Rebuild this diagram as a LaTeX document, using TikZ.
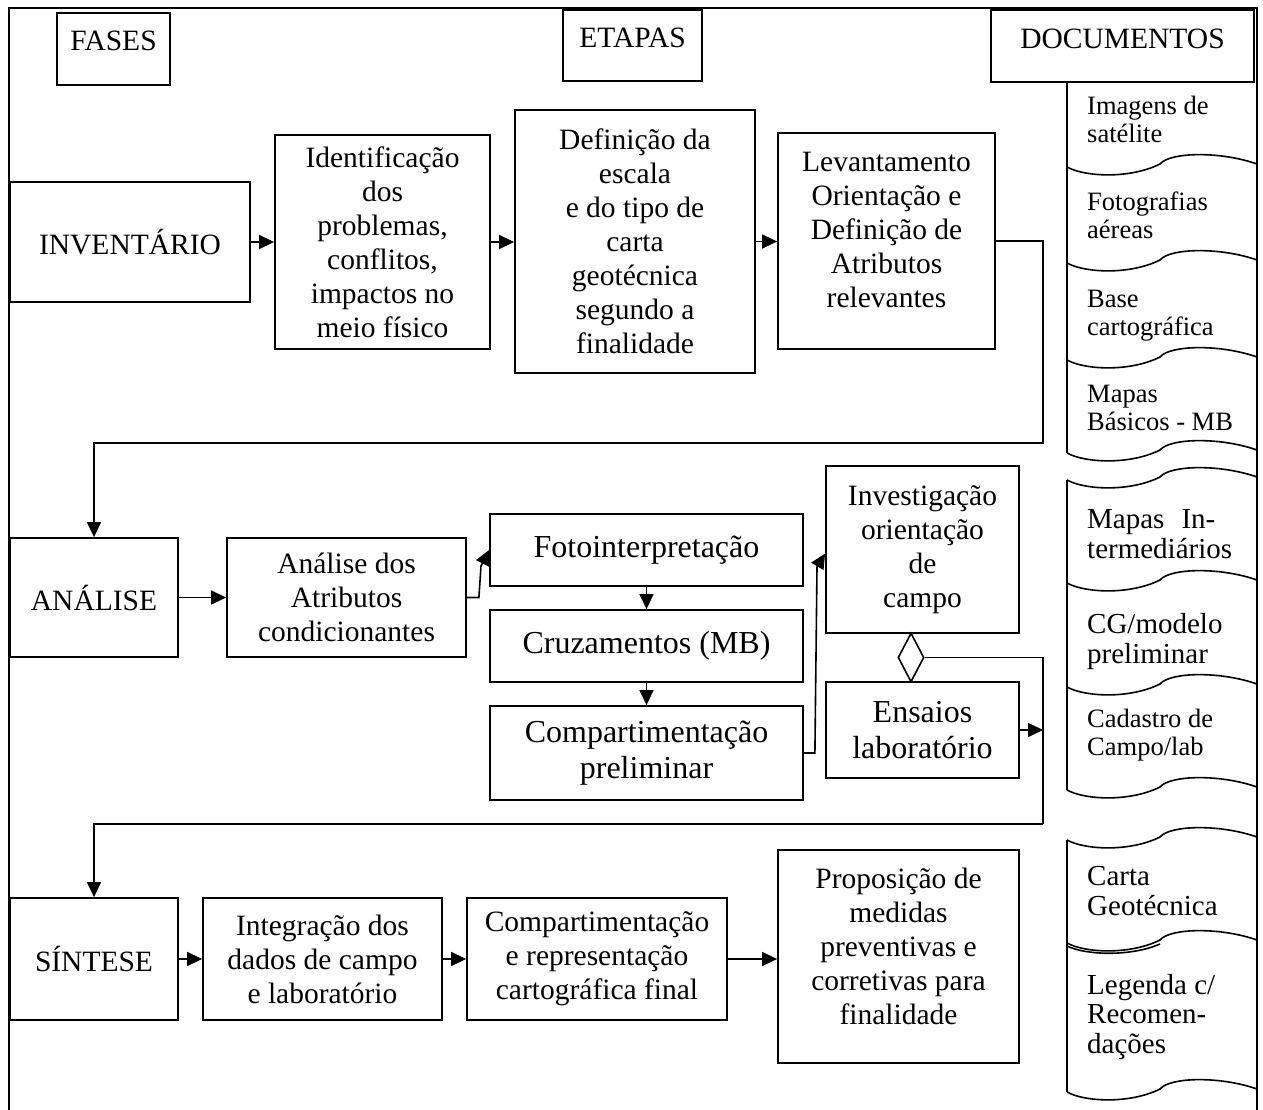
\documentclass[tikz,border=0pt]{standalone}
\usepackage{fontspec}
\setmainfont{Liberation Serif}
\usetikzlibrary{arrows.meta,shapes.geometric}

\tikzset{
  x=1pt, y=-1pt,
  box/.style={draw, line width=1.8pt, rectangle, inner sep=0pt, align=center,
              font=\fontsize{29.5}{34}\selectfont},
  bigbox/.style={box, font=\fontsize{32}{36}\selectfont},
  txt/.style={align=center, inner sep=0pt, font=\fontsize{29.5}{34}\selectfont},
  % document labels are anchored on the baseline of their last line
  doctxt/.style={align=left, anchor=base west, inner sep=0pt,
                 font=\fontsize{26.5}{28}\selectfont},
  doctxtl/.style={align=left, anchor=base west, inner sep=0pt,
                  font=\fontsize{29}{29.5}\selectfont},
  link/.style={line width=1.6pt},
  arr/.style={link, -{Triangle[length=15pt,width=14pt]}},
  frame/.style={line width=1.5pt},
  wave/.style={line width=1.6pt},
  pics/docwave/.style={code={
    \draw[wave] (1067,0) .. controls (1085,10) and (1130,12) .. (1160,-3)
                .. controls (1170,-15) and (1220,-16) .. (1257,-3);}},
}

\begin{document}
\begin{tikzpicture}
\useasboundingbox (0,0) rectangle (1263,1110);

% outer frame (open at the bottom)
\draw[frame] (9,1110) -- (9,8) -- (1257,8) -- (1257,1110);

% column headers
\node[box, minimum width=113pt, minimum height=72pt] (fases) at (113.5,49) {};
\node[txt] (fasest) at (113.5,41) {FASES};
\node[box, minimum width=139pt, minimum height=71pt] (etapas) at (632.5,45.5) {};
\node[txt] (etapast) at (632.5,38) {ETAPAS};
\node[box, minimum width=263pt, minimum height=72pt] (docs) at (1122.5,46) {};
\node[txt] (docst) at (1122.5,38.5) {DOCUMENTOS};

% inventory row
\node[box, minimum width=240pt, minimum height=120pt] (inv) at (130,242) {INVENTÁRIO};
\node[box, minimum width=215pt, minimum height=214pt] (ident) at (382.5,242)
  {Identificação\\dos\\problemas,\\conflitos,\\impactos no\\meio físico};
\node[box, minimum width=240pt, minimum height=263pt] (defi) at (635,241.5)
  {Definição da\\escala\\e do tipo de\\carta\\geotécnica\\segundo a\\finalidade};
\node[box, minimum width=217pt, minimum height=216pt] (lev) at (886.5,241) {};
\node[txt] (levt) at (886.5,230)
  {Levantamento\\Orientação e\\Definição de\\Atributos\\relevantes};

% analysis row
\node[box, minimum width=168pt, minimum height=119pt] (anal) at (94,597.5) {ANÁLISE};
\node[box, minimum width=239pt, minimum height=119pt] (atr) at (346.5,597.5)
  {Análise dos\\Atributos\\condicionantes};
\node[bigbox, minimum width=313pt, minimum height=72pt] (foto) at (646.5,550) {Fotointerpretação};
\node[bigbox, minimum width=313pt, minimum height=72pt] (cruz) at (646.5,646) {Cruzamentos (MB)};
\node[bigbox, minimum width=313pt, minimum height=94pt] (cpre) at (646.5,753)
  {Compartimentação\\preliminar};
\node[box, minimum width=193pt, minimum height=167pt] (invq) at (922.5,549.5)
  {Investigação\\orientação\\de\\campo};
\node[bigbox, minimum width=193pt, minimum height=96pt] (ens) at (922.5,730)
  {Ensaios\\laboratório};
\node[draw, diamond, line width=1.6pt, minimum width=26pt, minimum height=49pt,
      inner sep=0pt] (dia) at (911,657.5) {};

% synthesis row
\node[box, minimum width=168pt, minimum height=122pt] (sin) at (94,959) {SÍNTESE};
\node[box, minimum width=239pt, minimum height=122pt] (integ) at (322.5,959)
  {Integração dos\\dados de campo\\e laboratório};
\node[box, minimum width=260pt, minimum height=122pt] (cfin) at (597,959)
  {Compartimentação\\e representação\\cartográfica final};
\node[box, minimum width=241pt, minimum height=213pt] (prop) at (898.5,956.5) {};
\node[txt] (propt) at (898.5,946)
  {Proposição de\\medidas\\preventivas e\\corretivas para\\finalidade};

% connectors
\coordinate (r1) at (1043,443);
\coordinate (r2) at (1043,824);
\draw[arr] (inv.east) -- (inv.east -| ident.west);
\draw[arr] (ident.east) -- (ident.east -| defi.west);
\draw[arr] (defi.east) -- (defi.east -| lev.west);
\draw[arr] (lev.east) -| (r1) -| (anal.north);

\draw[arr] (anal.east) -- (anal.east -| atr.west);
\draw[arr] (atr.east) -- ++(12,0) -- (481,566) -- (foto.west);
\draw[arr] (foto) -- (cruz);
\draw[arr] (cruz) -- (cpre);
\draw[arr] (cpre.east) -- ++(11,0) -- (817,567) -- ([yshift=-4pt]invq.west);
\draw[link] (dia.east) -| (r2);
\draw[arr] (r2) -| (sin.north);
\draw[arr] (ens.east) -- (ens.east -| r2);

\draw[arr] (sin.east) -- (sin.east -| integ.west);
\draw[arr] (integ.east) -- (integ.east -| cfin.west);
\draw[arr] (cfin.east) -- (cfin.east -| prop.west);

% document stacks
\draw[wave] (1067,82) -- (1067,453);
\pic at (0,167) {docwave};
\pic at (0,263) {docwave};
\pic at (0,360) {docwave};
\pic at (0,453) {docwave};

\draw[wave] (1067,480) -- (1067,790);
\pic at (0,480) {docwave};
\pic at (0,583) {docwave};
\pic at (0,687) {docwave};
\pic at (0,790) {docwave};

\draw[wave] (1067,840) -- (1067,1092);
\pic at (0,840) {docwave};
\pic at (0,943) {docwave};
\draw[wave] (1067,946) .. controls (1085,955) and (1130,957) .. (1160,944);
\pic at (0,1092) {docwave};

\node[doctxt] (d1) at (1087,143) {Imagens de\\satélite};
\node[doctxt] (d2) at (1087,238) {Fotografias\\aéreas};
\node[doctxt] (d3) at (1087,335) {Base\\cartográfica};
\node[doctxt] (d4) at (1087,430) {Mapas\\Básicos - MB};
\node[doctxtl] (d5) at (1087,558) {Mapas\hspace{17pt}In-\\termediários};
\node[doctxtl] (d6) at (1087,663) {CG/modelo\\preliminar};
\node[doctxt] (d7) at (1087,755) {Cadastro de\\Campo/lab};
\node[doctxtl] (d8) at (1087,915) {Carta\\Geotécnica};
\node[doctxtl] (d9) at (1087,1053) {Legenda c/\\Recomen-\\dações};
\end{tikzpicture}
\end{document}
